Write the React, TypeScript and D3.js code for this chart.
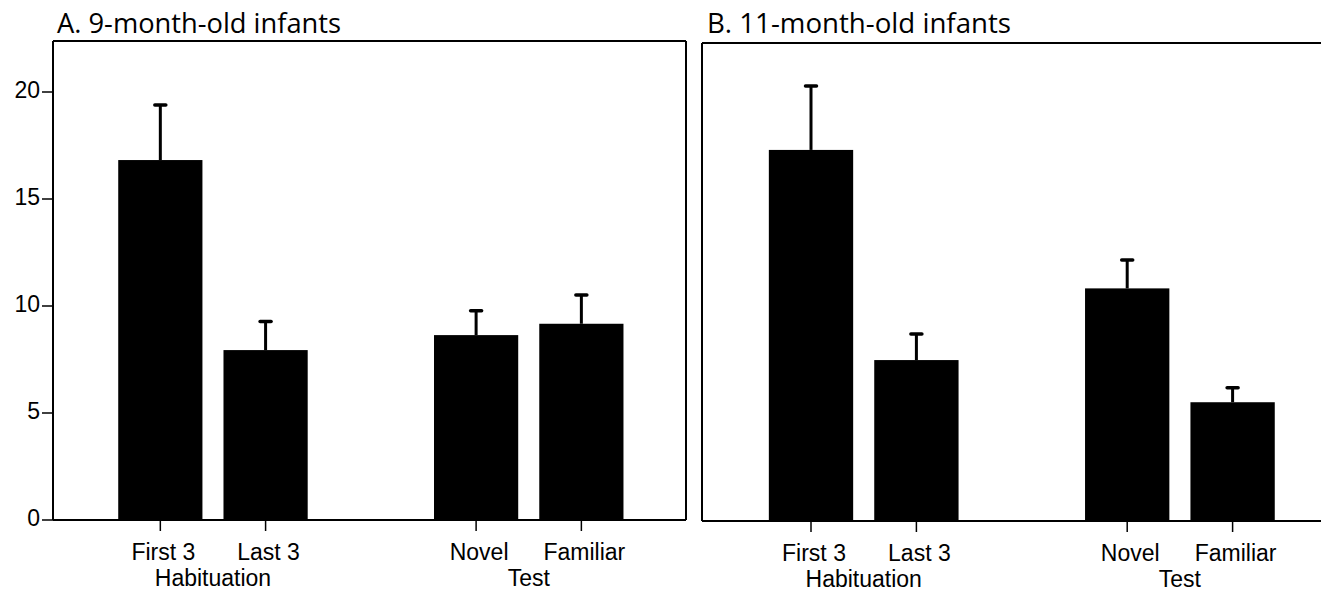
import React from "react";
import * as d3 from "d3";

const categories = ["First 3", "Last 3", "Novel", "Familiar"];
const groups = ["Habituation", "Test"];
const groupOf = ["Habituation", "Habituation", "Test", "Test"];
const yTicks = [0, 5, 10, 15, 20];

const panelTitles = ["A. 9-month-old infants", "B. 11-month-old infants"];
const meansA = [16.82, 7.94, 8.64, 9.17];
const errTopA = [19.39, 9.27, 9.78, 10.51];
const meansB = [17.34, 7.52, 10.87, 5.55];
const errTopB = [20.33, 8.74, 12.2, 6.23];

const W = 1321;
const H = 595;
const SANS = "'Liberation Sans', Arial, sans-serif";
const TITLE_FONT = "'Open Sans', 'Noto Sans', sans-serif";

type PanelProps = {
  title: string;
  means: number[];
  errTop: number[];
  left: number;
  right: number;
  top: number;
  bottom: number;
  bandStart: number;
  bandEnd: number;
  titleX: number;
  titleW: number;
  showY: boolean;
  drawRight: boolean;
};

function Panel(p: PanelProps) {
  const slots = ["First 3", "Last 3", "gap", "Novel", "Familiar"];
  const x = d3
    .scaleBand<string>()
    .domain(slots)
    .range([p.bandStart, p.bandEnd])
    .paddingInner(0.2)
    .paddingOuter(0.1);
  const pxPerUnit = 21.4;
  const y = d3
    .scaleLinear()
    .domain([0, (p.bottom - p.top) / pxPerUnit])
    .range([p.bottom, p.top]);
  const bw = x.bandwidth();
  const cx = (c: string) => (x(c) as number) + bw / 2;

  return (
    <g>
      <text
        x={p.titleX}
        y={33}
        fontFamily={TITLE_FONT}
        fontSize={27}
        textLength={p.titleW}
        lengthAdjust="spacingAndGlyphs"
        fill="#000"
      >
        {p.title}
      </text>
      <line x1={p.left} x2={p.right} y1={p.top} y2={p.top} stroke="#000" strokeWidth={2} />
      <line x1={p.left} x2={p.left} y1={p.top} y2={p.bottom} stroke="#000" strokeWidth={2} />
      {p.drawRight && (
        <line x1={p.right} x2={p.right} y1={p.top} y2={p.bottom} stroke="#000" strokeWidth={2} />
      )}
      <line x1={p.left} x2={p.right} y1={p.bottom} y2={p.bottom} stroke="#000" strokeWidth={2} />
      {categories.map((c, i) => (
        <g key={c}>
          <rect x={x(c)} y={y(p.means[i])} width={bw} height={y(0) - y(p.means[i])} fill="#000" />
          <line
            x1={cx(c)}
            x2={cx(c)}
            y1={y(p.means[i])}
            y2={y(p.errTop[i])}
            stroke="#000"
            strokeWidth={3}
          />
          <line
            x1={cx(c) - 5.5}
            x2={cx(c) + 5.5}
            y1={y(p.errTop[i])}
            y2={y(p.errTop[i])}
            stroke="#000"
            strokeWidth={3.5}
            strokeLinecap="round"
          />
          <line x1={cx(c)} x2={cx(c)} y1={p.bottom} y2={p.bottom + 11} stroke="#000" strokeWidth={1.5} />
          <text
            x={cx(c) + 3}
            y={p.bottom + 40}
            textAnchor="middle"
            fontFamily={SANS}
            fontSize={23}
            fill="#000"
          >
            {c}
          </text>
        </g>
      ))}
      {groups.map((g) => {
        const members = categories.filter((_, i) => groupOf[i] === g);
        const gx = d3.mean(members.map(cx)) as number;
        return (
          <text
            key={g}
            x={gx}
            y={p.bottom + 66}
            textAnchor="middle"
            fontFamily={SANS}
            fontSize={23}
            fill="#000"
          >
            {g}
          </text>
        );
      })}
      {p.showY &&
        yTicks.map((t) => (
          <g key={t}>
            <line x1={p.left - 11} x2={p.left} y1={y(t)} y2={y(t)} stroke="#000" strokeWidth={1.5} />
            <text
              x={p.left - 13}
              y={y(t) + 6}
              textAnchor="end"
              fontFamily={SANS}
              fontSize={23}
              fill="#000"
            >
              {t}
            </text>
          </g>
        ))}
    </g>
  );
}

export default function App() {
  return (
    <svg
      width={W}
      height={H}
      style={{ position: "absolute", left: 0, top: 0, background: "#fff" }}
    >
      <rect x={0} y={0} width={W} height={H} fill="#fff" />
      <Panel
        title={panelTitles[0]}
        means={meansA}
        errTop={errTopA}
        left={53}
        right={686}
        top={41}
        bottom={520}
        bandStart={107.7}
        bandEnd={634}
        titleX={57}
        titleW={284}
        showY={true}
        drawRight={true}
      />
      <Panel
        title={panelTitles[1]}
        means={meansB}
        errTop={errTopB}
        left={702}
        right={1340}
        top={43}
        bottom={521}
        bandStart={758.3}
        bandEnd={1285.3}
        titleX={707}
        titleW={304}
        showY={false}
        drawRight={false}
      />
    </svg>
  );
}
